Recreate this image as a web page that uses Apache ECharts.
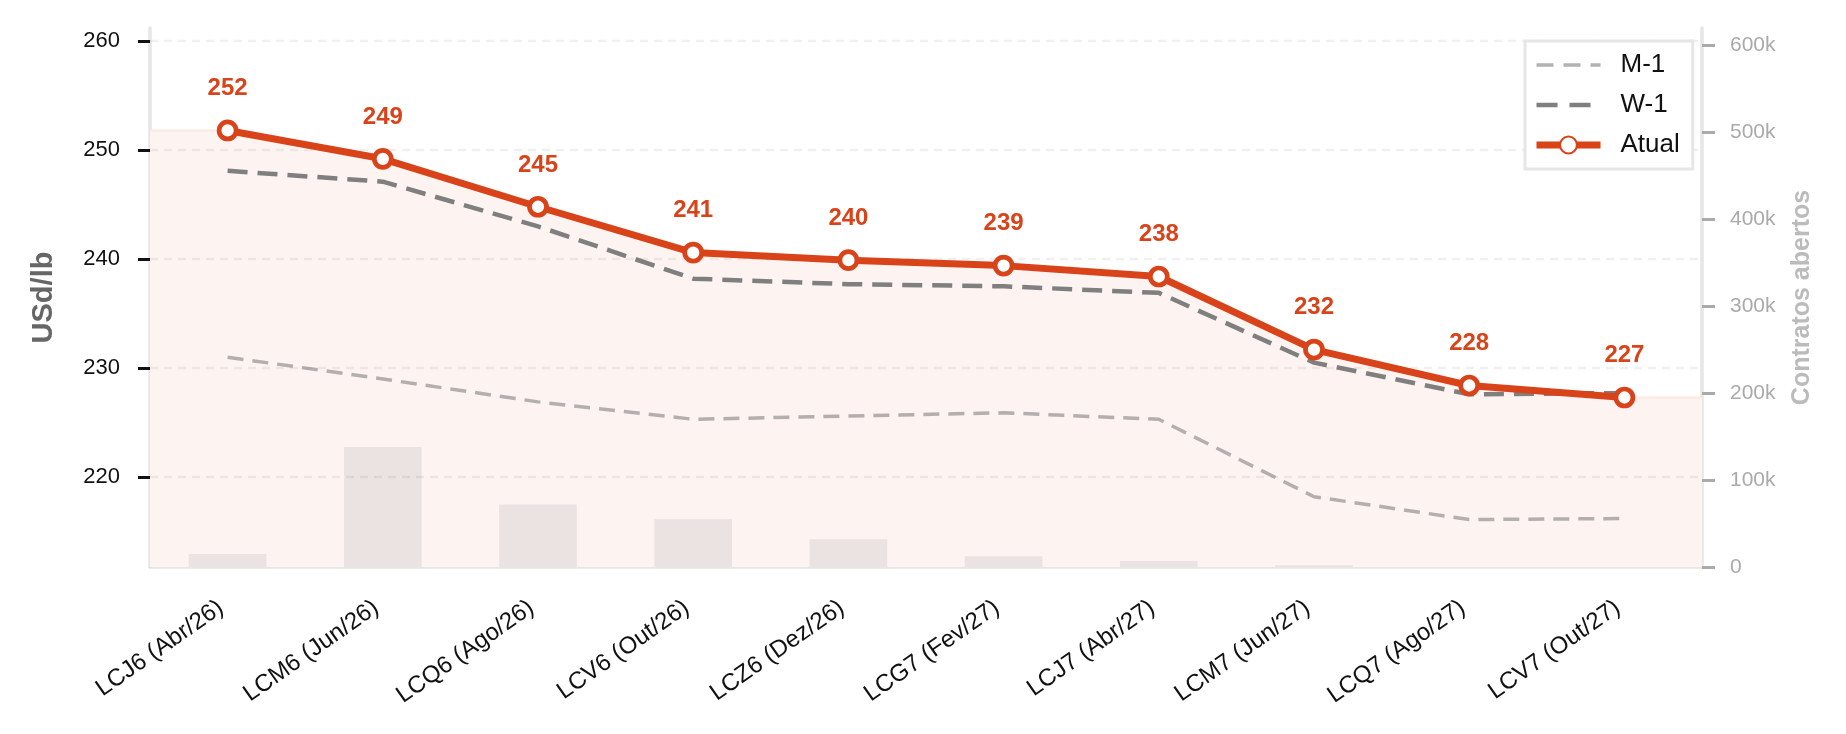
<!DOCTYPE html>
<html>
<head>
<meta charset="utf-8">
<script src="https://cdn.jsdelivr.net/npm/echarts@6/dist/echarts.min.js"></script>
<style>
  html, body { margin: 0; padding: 0; background: #fff; }
  #chart { width: 1846px; height: 734px; }
</style>
</head>
<body>
<div id="chart"></div>
<script>
var categories = ["LCJ6 (Abr/26)", "LCM6 (Jun/26)", "LCQ6 (Ago/26)", "LCV6 (Out/26)", "LCZ6 (Dez/26)",
    "LCG7 (Fev/27)", "LCJ7 (Abr/27)", "LCM7 (Jun/27)", "LCQ7 (Ago/27)", "LCV7 (Out/27)"]
var atual = [251.8, 249.2, 244.8, 240.6, 239.9, 239.4, 238.4, 231.7, 228.4, 227.3]
var w1 = [248.1, 247.1, 243.0, 238.2, 237.7, 237.5, 236.9, 230.5, 227.6, 227.7]
var m1 = [231.0, 229.0, 226.9, 225.3, 225.6, 225.9, 225.3, 218.2, 216.1, 216.2]
var openInterest = [15000, 138000, 72000, 55000, 32000, 12500, 7000, 2000, 0, 0]
var priceTicks = [220, 230, 240, 250, 260]
var oiTicks = [0, 100000, 200000, 300000, 400000, 500000, 600000]

var RED = "#d8431a", FONT = "'Liberation Sans', Arial, sans-serif"

// faixa rosa sob a curva atual, estendida até as bordas do eixo
var fill = [[-0.5, atual[0]]]
atual.forEach(function(v, i) { fill.push([i, v]) })
fill.push([categories.length - 0.5, atual[atual.length - 1]])

var chart = echarts.init(document.getElementById("chart"), null, {renderer: "canvas"})
chart.setOption({
    animation: false,
    textStyle: {fontFamily: FONT},
    grid: {left: 150, right: 144, top: 28, bottom: 167},
    legend: {
        data: [
            {name: "M-1", itemStyle: {opacity: 0}, lineStyle: {type: [17, 10]}},
            {name: "W-1", itemStyle: {opacity: 0}, lineStyle: {type: [21, 12]}},
            {name: "Atual"},
        ],
        orient: "vertical", left: 1525, top: 41,
        padding: [11, 13, 11, 8], itemGap: 14, itemWidth: 64, itemHeight: 21,
        lineStyle: {width: "inherit"},
        backgroundColor: "#fff", borderColor: "#e6e6e6", borderWidth: 3, borderRadius: 0,
        textStyle: {fontSize: 26, color: "#111", fontFamily: FONT, padding: [0, 0, 0, 15]},
    },
    xAxis: [
        {type: "category", data: categories, boundaryGap: true,
            axisLine: {onZero: false, lineStyle: {color: "#e6e6e6", width: 3.5}},
            axisTick: {alignWithLabel: true, length: 12, lineStyle: {color: "#111", width: 3}},
            axisLabel: {interval: 0, rotate: 35, fontSize: 24, color: "#111", margin: 34, fontFamily: FONT,
                padding: [0, 8, 0, 0]},
        },
        {type: "value", min: -0.5, max: categories.length - 0.5, show: false},
    ],
    yAxis: [
        {type: "value", min: 211.75, max: 261.2, name: "USd/lb", nameLocation: "middle", nameGap: 92,
            nameTextStyle: {fontSize: 29, fontWeight: "bold", color: "#666", fontFamily: FONT},
            axisLine: {show: true, onZero: false, lineStyle: {color: "#e6e6e6", width: 3.5}},
            axisTick: {show: true, length: 12, customValues: priceTicks, lineStyle: {color: "#111", width: 3}},
            axisLabel: {customValues: priceTicks, fontSize: 22, color: "#111", margin: 30, fontFamily: FONT},
            splitLine: {show: false},
        },
        {type: "value", min: 0, max: 620000, position: "right", name: "Contratos abertos",
            nameLocation: "middle", nameRotate: 90, nameGap: 88,
            nameTextStyle: {fontSize: 25, fontWeight: "bold", color: "#bbb", fontFamily: FONT},
            axisLine: {show: true, onZero: false, lineStyle: {color: "#e6e6e6", width: 3.5}},
            axisTick: {show: true, length: 13, customValues: oiTicks, lineStyle: {color: "#aaa", width: 3}},
            axisLabel: {customValues: oiTicks, fontSize: 21, color: "#aaa", margin: 28, fontFamily: FONT,
                formatter: function(v) { return v === 0 ? "0" : (v / 1000) + "k" }},
            splitLine: {show: false},
        },
    ],
    series: [
        {name: "fill", type: "line", xAxisIndex: 1, yAxisIndex: 0, data: fill, symbol: "none", silent: true, z: 1,
            lineStyle: {width: 2, color: "#fbe8e2"}, areaStyle: {color: "#fdf3f0", opacity: 1, origin: "start"},
            markLine: {silent: true, symbol: "none", z: 3, label: {show: false},
                lineStyle: {color: "rgba(0,0,0,0.06)", width: 2.3, type: [8, 6]},
                data: priceTicks.map(function(v) { return {yAxis: v} })},
        },
        {name: "OI", type: "bar", xAxisIndex: 0, yAxisIndex: 1, data: openInterest, barWidth: "50%", z: 2,
            itemStyle: {color: "#ebe3e1"}, silent: true},
        {name: "M-1", type: "line", data: m1, symbol: "none", z: 4,
            lineStyle: {color: "#8a8a8a", opacity: 0.65, width: 3.5, type: [16, 9]}, itemStyle: {color: "#8a8a8a"}},
        {name: "W-1", type: "line", data: w1, symbol: "none", z: 5,
            lineStyle: {color: "#7f7f7f", width: 4.5, type: [20, 10]}, itemStyle: {color: "#7f7f7f"}},
        {name: "Atual", type: "line", data: atual, symbol: "circle", symbolSize: 17, z: 6,
            lineStyle: {color: RED, width: 7},
            itemStyle: {color: "#fff", borderColor: RED, borderWidth: 4.7},
            label: {show: true, position: "top", distance: 19, color: RED, fontSize: 24, fontWeight: "bold", fontFamily: FONT,
                formatter: function(p) { return Math.round(p.value) }},
        },
    ],
})
</script>
</body>
</html>
